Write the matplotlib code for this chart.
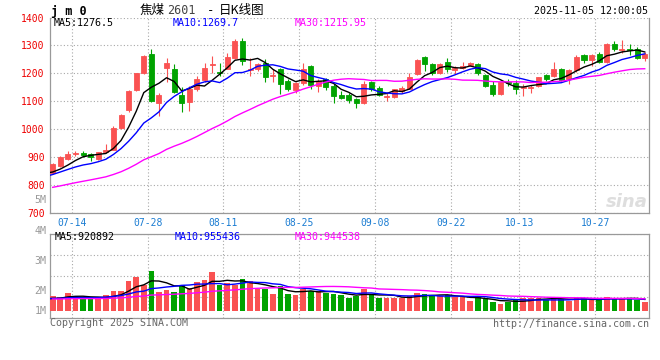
import numpy as np
import pandas as pd
import matplotlib
matplotlib.use('Agg')
import matplotlib.pyplot as plt

# daily candles jm0, 2025-07-10 .. 2025-11-05
opens = [841, 866, 893, 910, 914, 910, 893, 918, 926, 1002,
         1068, 1140, 1202, 1268, 1092, 1219, 1214, 1121, 1098, 1145,
         1176, 1229, 1206, 1217, 1256, 1315, 1212, 1214, 1238, 1190,
         1214, 1173, 1140, 1164, 1226, 1155, 1179, 1155, 1121, 1121,
         1107, 1093, 1167, 1146, 1116, 1115, 1137, 1145, 1196, 1258,
         1232, 1200, 1240, 1212, 1218, 1231, 1232, 1193, 1157, 1125,
         1169, 1164, 1148, 1148, 1155, 1193, 1190, 1217, 1179, 1212,
         1264, 1248, 1268, 1240, 1304, 1283, 1288, 1288, 1256]
closes = [874, 898, 910, 914, 907, 899, 916, 926, 1004, 1050,
          1137, 1200, 1262, 1101, 1121, 1236, 1133, 1092, 1145, 1181,
          1220, 1235, 1202, 1260, 1315, 1244, 1216, 1232, 1185, 1195,
          1161, 1145, 1164, 1217, 1158, 1173, 1152, 1119, 1111, 1104,
          1093, 1161, 1143, 1121, 1119, 1143, 1146, 1188, 1248, 1232,
          1200, 1234, 1214, 1220, 1226, 1237, 1200, 1155, 1125, 1167,
          1165, 1145, 1151, 1151, 1185, 1179, 1217, 1176, 1212, 1258.5,
          1248, 1264, 1240, 1304, 1286, 1288, 1283, 1256, 1269.5]
highs = [878, 903, 920, 920, 920, 915, 918, 945, 1010, 1054,
         1139, 1202, 1264, 1288, 1129, 1256, 1232, 1152, 1155, 1190,
         1238, 1262, 1238, 1274, 1324, 1327, 1256, 1238, 1252, 1214,
         1220, 1179, 1167, 1236, 1229, 1179, 1183, 1161, 1137, 1129,
         1110, 1173, 1173, 1155, 1129, 1145, 1155, 1200, 1250, 1262,
         1238, 1238, 1256, 1226, 1240, 1240, 1238, 1196, 1173, 1169,
         1181, 1176, 1161, 1157, 1188, 1196, 1240, 1219, 1214, 1264,
         1268, 1268, 1276, 1307, 1315, 1321, 1304, 1295, 1276]
lows = [838, 863, 890, 905, 899, 886, 890, 914, 924, 1000,
        1062, 1137, 1199, 1098, 1048, 1167, 1129, 1062, 1065, 1137,
        1167, 1202, 1190, 1214, 1252, 1229, 1190, 1208, 1167, 1169,
        1125, 1137, 1129, 1157, 1143, 1133, 1140, 1095, 1107, 1095,
        1074, 1089, 1137, 1117, 1101, 1113, 1129, 1143, 1193, 1208,
        1193, 1196, 1205, 1196, 1214, 1226, 1193, 1149, 1117, 1121,
        1155, 1125, 1117, 1131, 1152, 1173, 1188, 1173, 1161, 1205,
        1238, 1226, 1238, 1238, 1280, 1274, 1264, 1252, 1244]
# volume, million lots
volumes = [1.18, 1.07, 1.42, 1.18, 0.99, 0.92, 0.99, 1.26, 1.61, 1.61,
           2.41, 2.74, 2.06, 3.22, 1.53, 1.69, 1.53, 2.06, 1.85, 2.33,
           2.47, 3.14, 2.06, 2.25, 2.06, 2.54, 2.39, 1.72, 1.72, 1.34,
           1.98, 1.34, 1.26, 1.79, 1.61, 1.58, 1.45, 1.34, 1.26, 1.05,
           1.18, 1.72, 1.34, 1.05, 1.05, 1.05, 0.99, 1.18, 1.45, 1.34,
           1.18, 1.18, 1.26, 1.07, 1.07, 0.80, 1.07, 0.92, 0.72, 0.54,
           0.72, 0.86, 0.99, 0.99, 0.99, 0.86, 1.07, 0.92, 0.80, 0.99,
           0.99, 0.86, 0.86, 1.13, 0.99, 0.99, 0.99, 0.86, 0.72]

# the 29 sessions before the window (only needed for the moving averages)
prior_closes = [742, 738, 745, 752, 748, 755, 760, 752, 758, 765,
                770, 776, 772, 780, 785, 790, 788, 795, 792, 797,
                808, 818, 826, 836, 852, 846, 838, 832, 840]
prior_volumes = [0.95, 0.88, 0.92, 0.85, 0.97, 0.90, 0.86, 0.93, 0.99, 0.88,
                 0.91, 0.87, 0.94, 0.96, 0.89, 0.92, 0.95, 0.90, 0.93, 0.90,
                 0.96, 1.02, 0.94, 1.05, 0.98, 0.97, 0.90, 0.95, 0.95]

date_labels = ['07-14', '07-28', '08-11', '08-25', '09-08', '09-22', '10-13', '10-27']
date_idx = [2, 12, 22, 32, 42, 52, 61, 71]

price_ma_text = ['MA5:1276.5', 'MA10:1269.7', 'MA30:1215.95']
vol_ma_text = ['MA5:920892', 'MA10:955436', 'MA30:944538']
vol_axis_labels = ['5M', '4M', '3M', '2M', '1M']

W, H = 660, 360
RED = '#fa5252'
GREEN = '#00a300'
GRID = '#a8a8a8'
SPINE = '#999999'
MONO = 'DejaVu Sans Mono'
CJK = ['Noto Sans CJK SC', 'DejaVu Sans']

def fx(x):
    return x / W

def fy(y):
    return 1 - y / H

n = len(closes)
x = np.arange(n)
o = np.array(opens, float)
c = np.array(closes, float)
up = c >= o
cols = np.where(up, RED, GREEN)

npre = len(prior_closes)
allc = pd.Series(prior_closes + closes)
allv = pd.Series(prior_volumes + volumes)
xm = np.arange(-1, n)
ma_cols = ['black', '#0000ff', '#ff00ff']

fig = plt.figure(figsize=(W / 100, H / 100), dpi=100)
ax = fig.add_axes([fx(50.3), fy(212.7), fx(649.3 - 50.3), (212.7 - 17.5) / H])
axv = fig.add_axes([fx(50.3), fy(318.3), fx(649.3 - 50.3), (318.3 - 234.3) / H])

xl = ((50.3 - 52.7) / 7.59, (649.3 - 52.7) / 7.59)
grid_x = [i + 0.5 for i in date_idx]

# price panel
ax.vlines(x, lows, highs, colors=cols, lw=0.8, zorder=3)
ax.bar(x, np.abs(c - o), bottom=np.minimum(o, c), width=0.66,
       color=cols, edgecolor=cols, linewidth=0.6, zorder=4)
for w, col in zip([5, 10, 30], ma_cols):
    ma = allc.rolling(w).mean().values[npre - 1:]
    ax.plot(xm, ma, color=col, lw=1.0, zorder=5)
ax.set_xlim(*xl)
ax.set_ylim(700, 1400)
ax.set_yticks(range(700, 1401, 100))
ax.set_xticks(grid_x)
ax.set_xticklabels(date_labels)
ax.tick_params(length=0, labelsize=7, labelfontfamily=MONO)
ax.tick_params(axis='y', labelcolor='#ee0000', pad=4)
ax.tick_params(axis='x', labelcolor='#1a7cd2', pad=4)
ax.grid(True, ls=(0, (1, 2)), color=GRID, lw=0.8)
ax.set_axisbelow(True)
ax.spines['top'].set_visible(False)
for s in ['left', 'right', 'bottom']:
    ax.spines[s].set_color(SPINE)
    ax.spines[s].set_linewidth(0.9)
ax.text(0.998, 0.01, 'sina', transform=ax.transAxes, ha='right', va='bottom',
        fontsize=13, fontweight='bold', style='italic', color='#dedede', zorder=1)

# volume panel
axv.bar(x, volumes, width=0.74, color=cols, zorder=3)
for w, col in zip([5, 10, 30], ma_cols):
    ma = allv.rolling(w).mean().values[npre - 1:]
    axv.plot(xm, ma, color=col, lw=1.0, zorder=5)
axv.set_xlim(*xl)
vlo, vhi = -7.6 / 12.4, 76.4 / 12.4
axv.set_ylim(vlo, vhi)
axv.set_yticks(np.linspace(vlo, vhi, 5))
axv.set_xticks(grid_x)
axv.tick_params(length=0, labelleft=False, labelbottom=False)
axv.grid(True, ls=(0, (1, 2)), color=GRID, lw=0.8)
axv.set_axisbelow(True)
for s in axv.spines.values():
    s.set_color(SPINE)
    s.set_linewidth(0.9)

# texts
fig.text(fx(51), fy(11), 'j m 0', fontsize=8.5, fontweight='bold', family=MONO, va='center')
fig.text(fx(140), fy(10.5), '焦煤', fontsize=9, family=CJK, va='center')
fig.text(fx(167), fy(11), '2601', fontsize=8.5, family=MONO, color='#444444', va='center')
fig.text(fx(207), fy(10.5), '-', fontsize=9, family=MONO, va='center')
fig.text(fx(219), fy(10.5), '日K线图', fontsize=9, family=CJK, va='center')
fig.text(fx(648), fy(11), '2025-11-05 12:00:05', fontsize=7.2, family=MONO,
         ha='right', va='center')
for t, xp, col in zip(price_ma_text, [54, 173, 295], ma_cols):
    fig.text(fx(xp), fy(23.5), t, fontsize=7.2, family=MONO, color=col, va='center')
for t, xp, col in zip(vol_ma_text, [55, 175, 295], ma_cols):
    fig.text(fx(xp), fy(237.5), t, fontsize=7.2, family=MONO, color=col, va='center')
for t, yp in zip(vol_axis_labels, [200, 231, 261, 291, 311]):
    fig.text(fx(46.5), fy(yp), t, fontsize=7.2, family=MONO, color='#999999',
             ha='right', va='center')
fig.text(fx(50), fy(323.5), 'Copyright 2025 SINA.COM', fontsize=7.2, family=MONO,
         color='#666666', va='center')
fig.text(fx(649), fy(324), 'http://finance.sina.com.cn', fontsize=7.2, family=MONO,
         color='#666666', ha='right', va='center')

fig.savefig('out.png', dpi=100)
